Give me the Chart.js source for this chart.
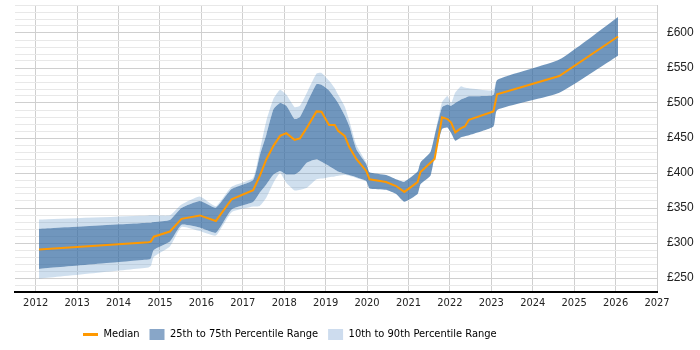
<!DOCTYPE html>
<html>
<head>
<meta charset="utf-8">
<script src="https://cdn.jsdelivr.net/npm/chart.js@4/dist/chart.umd.min.js"></script>
<style>
  html, body { margin: 0; padding: 0; background: #fff; }
  #wrap { width: 700px; height: 350px; }
</style>
</head>
<body>
<div id="wrap"><canvas id="chart" width="700" height="350"></canvas></div>
<script>
// decimal years of each sample
const years = [2012.08, 2014.72, 2014.78, 2014.85, 2015.24, 2015.52, 2015.96, 2016.35, 2016.73, 2017.25,
  2017.41, 2017.57, 2017.74, 2017.90, 2018.05, 2018.25, 2018.38, 2018.55, 2018.78, 2018.90,
  2019.08, 2019.22, 2019.30, 2019.46, 2019.57, 2019.74, 2019.98, 2020.06, 2020.46, 2020.70,
  2020.90, 2021.22, 2021.29, 2021.53, 2021.63, 2021.81, 2021.94, 2022.03, 2022.13, 2022.27,
  2022.36, 2022.46, 2023.05, 2023.14, 2024.64, 2026.06];

const median = [290.6, 301, 302, 309, 316.4, 334.5, 339.4, 331.5, 362.5, 375.5,
  396, 419.7, 438.8, 453, 457, 447.4, 449.5, 465, 488, 487.6,
  468.5, 468.5, 460.3, 453, 437, 420, 403, 391, 387.2, 381.4,
  373, 387, 401.5, 414.5, 420, 479.5, 477, 472, 458, 464,
  466.5, 476, 488, 512.5, 538.5, 595];

const p25 = [263, 276.3, 278, 290, 302, 326, 322, 314.6, 348, 358.5,
  372, 384, 398, 403, 398, 398, 403, 415, 419.7, 416,
  410, 405, 402, 399, 397, 394, 388.6, 378, 376, 370,
  359, 370, 384, 396, 424, 463, 465, 457, 446, 451,
  452.5, 454, 466.5, 490, 514.5, 567.5];

const p75 = [320.3, 328.9, 329, 330, 333, 350, 360, 350.5, 377, 390,
  425, 455, 491, 500, 496, 477, 480, 500, 527, 526,
  518, 507, 500, 482, 467, 434, 413, 401, 397, 391,
  387.5, 402, 415, 430, 453, 494, 498, 496, 500, 505,
  507, 509.5, 511.5, 533, 562, 623];

const p10 = [249, 265, 267, 280, 295, 323, 317, 310.7, 344, 352,
  353, 365, 386, 400, 386, 375, 376, 379, 391, 392,
  394, 395, 396, 397, 396, 393, 388, 378, 376, 370,
  359, 370, 384, 396, 424, 463, 465, 457, 446, 451,
  452.5, 454, 466.5, 490, 514.5, 567.5];

const p90 = [333.6, 339.4, 339.5, 339.5, 339.5, 355, 366.5, 352.7, 380.5, 393,
  432, 475, 506, 519, 512, 494, 496, 515, 542, 543,
  532, 521, 512, 495, 475, 440, 415, 401, 397, 391,
  387.5, 402, 415, 430, 453, 501, 510, 500, 515, 524,
  522, 521, 518, 533, 562, 623];

const xTicks = [2012, 2013, 2014, 2015, 2016, 2017, 2018, 2019, 2020, 2021, 2022, 2023, 2024, 2025, 2026, 2027];
const legendNames = ["Median", "25th to 75th Percentile Range", "10th to 90th Percentile Range"];

const ORANGE = "rgb(255,153,0)";
const DARK = "rgba(51,105,161,0.7)";
const LIGHT = "rgba(95,148,198,0.3)";
const NARROW = "'Liberation Sans Narrow', 'DejaVu Sans Condensed', 'Liberation Sans', sans-serif";

const toPoints = (vals) => vals.map((v, i) => ({ x: years[i], y: v }));

const band = (vals, fill) => ({
  data: toPoints(vals),
  borderWidth: 0,
  pointRadius: 0,
  tension: 0.15,
  backgroundColor: fill ? fill.color : "transparent",
  fill: fill ? { target: fill.target } : false,
});

// shift the legend to where it sits in the original
const legendShift = {
  id: "legendShift",
  afterLayout(chart) {
    if (chart.legend) chart.legend.left = 73;
  },
};

new Chart(document.getElementById("chart"), {
  type: "line",
  data: {
    datasets: [
      {
        data: toPoints(median),
        borderColor: ORANGE,
        borderWidth: 2,
        pointRadius: 0,
        tension: 0,
        fill: false,
      },
      band(p90, { target: 2, color: LIGHT }),
      band(p75, { target: 3, color: DARK }),
      band(p25, { target: 4, color: LIGHT }),
      band(p10, null),
    ],
  },
  options: {
    responsive: false,
    animation: false,
    devicePixelRatio: 1,
    layout: { padding: { left: 15, top: 5, right: 0, bottom: 0 } },
    scales: {
      x: {
        type: "linear",
        min: 2011.5,
        max: 2027,
        afterBuildTicks: (scale) => { scale.ticks = xTicks.map((v) => ({ value: v })); },
        afterFit: (scale) => { scale.height = 27; scale.paddingLeft = 0; scale.paddingRight = 0; },
        ticks: {
          padding: 5,
          color: "#222",
          font: { family: NARROW, size: 11 },
          callback: (v) => String(v),
          maxRotation: 0,
          autoSkip: false,
        },
        grid: { color: "#cfcfcf", drawTicks: false },
        border: { color: "#000", width: 2 },
      },
      y: {
        position: "right",
        min: 230,
        max: 640,
        afterFit: (scale) => { scale.width = 43; scale.paddingTop = 0; scale.paddingBottom = 0; },
        ticks: {
          stepSize: 10,
          autoSkip: false,
          padding: 10,
          color: "#222",
          font: { family: "'Liberation Sans', Arial, sans-serif", size: 12 },
          callback: (v) => (v % 50 === 0 ? "£" + v : ""),
        },
        grid: {
          drawTicks: false,
          color: (ctx) => (ctx.tick && ctx.tick.value % 50 === 0 ? "#cfcfcf" : "#e8e8e8"),
        },
        border: { display: false },
      },
    },
    plugins: {
      tooltip: { enabled: false },
      legend: {
        position: "bottom",
        align: "start",
        labels: {
          usePointStyle: true,
          pointStyleWidth: 15,
          boxHeight: 11,
          padding: 10,
          color: "#222",
          font: { family: NARROW, size: 11 },
          generateLabels: () => [
            { text: legendNames[0], fillStyle: ORANGE, strokeStyle: ORANGE, lineWidth: 3, pointStyle: "line", hidden: false, datasetIndex: 0 },
            { text: legendNames[1], fillStyle: "#88a6c8", strokeStyle: "#88a6c8", lineWidth: 0, pointStyle: "rect", hidden: false, datasetIndex: 2 },
            { text: legendNames[2], fillStyle: "#cddcee", strokeStyle: "#cddcee", lineWidth: 0, pointStyle: "rect", hidden: false, datasetIndex: 1 },
          ],
        },
      },
    },
  },
  plugins: [legendShift],
});
</script>
</body>
</html>
